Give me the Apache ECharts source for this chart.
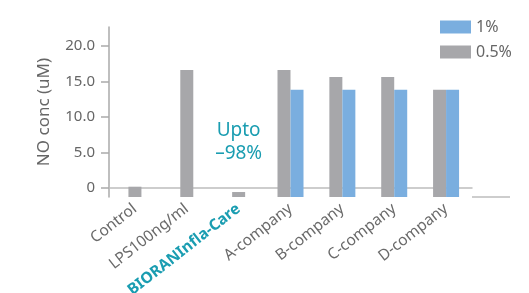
<!DOCTYPE html>
<html>
<head>
<meta charset="utf-8">
<script src="https://cdn.jsdelivr.net/npm/echarts@6/dist/echarts.min.js"></script>
<style>
  html, body { margin: 0; padding: 0; background: #fff; }
  #chart { width: 529px; height: 293px; }
</style>
</head>
<body>
<div id="chart"></div>
<script>
// data
var categories = ['Control', 'LPS100ng/ml', 'BIORANInfla-Care', 'A-company', 'B-company', 'C-company', 'D-company'];
var singleValues = [0.15, 16.6, -0.6, '-', '-', '-', '-'];
var halfPctValues = ['-', '-', '-', 16.6, 15.6, 15.6, 13.8];
var onePctValues = ['-', '-', '-', 13.8, 13.8, 13.8, 13.8];
var yTicks = [0, 5, 10, 15, 20];

(function() {
    var chart = echarts.init(document.getElementById('chart'));
    var font = 'Noto Sans';
    var grey = '#a7a7aa';
    var blue = '#7aaedf';
    var teal = '#1a9db1';

    var xLabel = {
        rotate: 38,
        margin: 10,
        fontFamily: font,
        fontSize: 15.5,
        color: '#6a6a6a',
        formatter: function(v) {
            return v === 'BIORANInfla-Care' ? '{hl|' + v + '}' : v;
        },
        rich: {
            hl: { color: teal, fontWeight: 'bold', fontFamily: font, fontSize: 15.5 }
        }
    };

    var option = {
        animation: false,
        grid: { left: 109, right: 57, top: 27, bottom: 96, outerBoundsMode: 'none', containLabel: false },
        legend: {
            data: ['1%', '0.5%'],
            orient: 'vertical',
            left: 435,
            top: 14,
            icon: 'rect',
            itemWidth: 31,
            itemHeight: 13,
            itemGap: 9,
            textStyle: { fontFamily: font, fontSize: 16, color: '#666' }
        },
        xAxis: [{
            type: 'category',
            data: categories,
            axisLine: { lineStyle: { color: '#bdbdbd', width: 1.5 } },
            axisTick: {
                length: 9,
                lineStyle: { color: '#bdbdbd', width: 1.5 },
                interval: function(i) { return i > 0; }
            },
            axisLabel: xLabel
        }, {
            type: 'category',
            data: categories,
            show: false,
            position: 'bottom'
        }],
        yAxis: {
            type: 'value',
            min: -1.3,
            max: 22.65,
            startValue: -1.3,
            name: 'NO conc (uM)',
            nameLocation: 'middle',
            nameGap: 56,
            nameTextStyle: { fontFamily: font, fontSize: 17, color: '#666' },
            splitLine: { show: false },
            axisLine: { show: true, lineStyle: { color: '#aaa', width: 1.5 } },
            axisTick: { show: true, length: 8, lineStyle: { color: '#aaa', width: 1.5 }, customValues: yTicks },
            axisLabel: {
                customValues: yTicks,
                margin: 14,
                fontFamily: font,
                fontSize: 15,
                color: '#666',
                formatter: function(v) { return v === 0 ? '0' : v.toFixed(1); }
            }
        },
        graphic: [{
            type: 'line',
            shape: { x1: 472, y1: 197, x2: 510, y2: 197 },
            style: { stroke: '#bdbdbd', lineWidth: 1.5 }
        }],
        series: [{
            name: '0.5%',
            type: 'bar',
            xAxisIndex: 1,
            barWidth: 13,
            itemStyle: { color: grey },
            data: singleValues.map(function(v, i) {
                if (i === 2) {
                    return {
                        value: v,
                        label: {
                            show: true,
                            position: 'top',
                            distance: 27,
                            formatter: 'Upto\n\u201398%',
                            fontFamily: font,
                            fontSize: 19,
                            lineHeight: 23,
                            color: teal
                        }
                    };
                }
                return v;
            })
        }, {
            name: '0.5%',
            type: 'bar',
            barWidth: 13,
            barGap: 0,
            itemStyle: { color: grey },
            data: halfPctValues
        }, {
            name: '1%',
            type: 'bar',
            barWidth: 13,
            barGap: 0,
            itemStyle: { color: blue },
            data: onePctValues
        }]
    };

    chart.setOption(option);
})();
</script>
</body>
</html>
